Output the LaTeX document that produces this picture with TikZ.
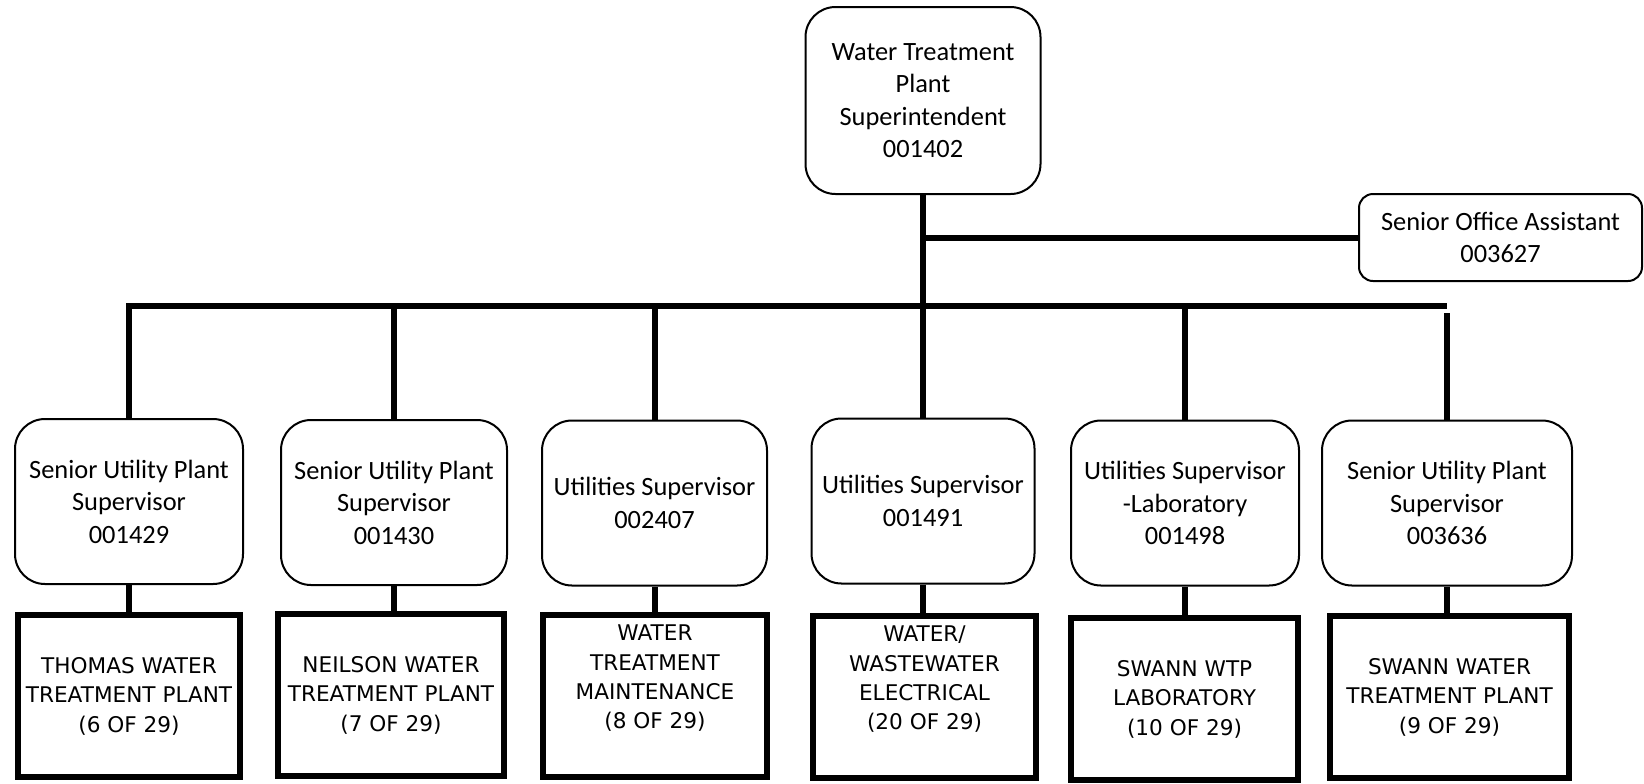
\documentclass[tikz,border=0pt]{standalone}
\usepackage{fontspec}
\setmainfont{Carlito}
\newfontfamily\unitfont{DejaVu Sans}
\usepackage{tikz}

\begin{document}
\begin{tikzpicture}[x=0.5pt,y=-0.5pt,
  post/.style={draw,line width=1pt,rounded corners=15pt,align=center,inner sep=0pt,minimum height=82.5pt,font=\fontsize{13.2}{16.25}\selectfont},
  unit/.style={draw,line width=3pt,align=center,inner sep=0pt,minimum height=81pt,font=\unitfont\fontsize{10.8}{14.7}\selectfont},
  tallunit/.style={unit,text depth=19pt},
  link/.style={line width=3pt}]
\useasboundingbox (0,0) rectangle (1644,783);

\node[post,minimum width=117.5pt,minimum height=93.5pt] (super) at (923,100.5) {Water Treatment\\Plant\\Superintendent\\001402};
\node[post,rounded corners=7pt,minimum width=141.5pt,minimum height=43.5pt] (office) at (1500.5,237.5) {Senior Office Assistant\\003627};

\node[post,minimum width=114pt] (m1) at (129,501.5) {Senior Utility Plant\\Supervisor\\001429};
\node[post,minimum width=113pt] (m2) at (394,502.5) {Senior Utility Plant\\Supervisor\\001430};
\node[post,minimum width=112.5pt] (m3) at (654.5,503) {Utilities Supervisor\\002407};
\node[post,minimum width=111.5pt] (m4) at (923,501) {Utilities Supervisor\\001491};
\node[post,minimum width=114pt] (m5) at (1185,503) {Utilities Supervisor\\-Laboratory\\001498};
\node[post,minimum width=125pt] (m6) at (1447,503) {Senior Utility Plant\\Supervisor\\003636};

\node[unit,minimum width=111pt] (b1) at (129,696) {THOMAS WATER\\TREATMENT PLANT\\(6 OF 29)};
\node[unit,minimum width=113pt] (b2) at (391,695) {NEILSON WATER\\TREATMENT PLANT\\(7 OF 29)};
\node[tallunit,minimum width=112pt] (b3) at (655,696) {WATER\\TREATMENT\\MAINTENANCE\\(8 OF 29)};
\node[tallunit,minimum width=111.5pt] (b4) at (924.5,697) {WATER/\\WASTEWATER\\ELECTRICAL\\(20 OF 29)};
\node[unit,minimum width=113.5pt] (b5) at (1184.5,699) {SWANN WTP\\LABORATORY\\(10 OF 29)};
\node[unit,minimum width=119.5pt] (b6) at (1449.5,697) {SWANN WATER\\TREATMENT PLANT\\(9 OF 29)};

\coordinate (bus) at (0,306);
\coordinate (gap) at (1447,313);
\draw[link] (super.south) -- (m4.north);
\draw[link] (super.south |- office.west) -- (office.west);
\draw[link] (m1.north) |- (m6.north |- bus);
\foreach \m in {m2,m3,m5}
  \draw[link] (\m.north) -- (\m.north |- bus);
\draw[link] (m6.north) -- (gap);
\foreach \i in {1,...,6}
  \draw[link] (m\i.south) -- (m\i.south |- b\i.north);
\end{tikzpicture}
\end{document}
